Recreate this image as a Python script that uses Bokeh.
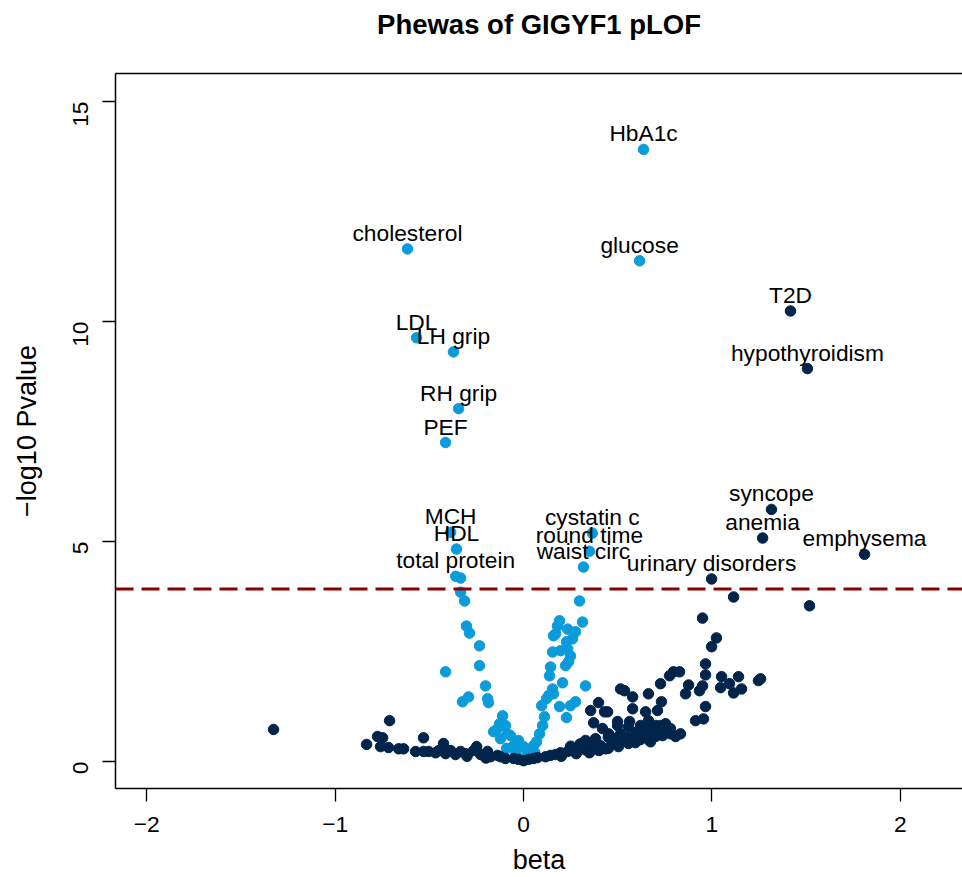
import math
from bokeh.plotting import figure
from bokeh.models import Range1d, FixedTicker, Span, ColumnDataSource, LabelSet, LinearAxis, Title
from bokeh.core.properties import value
from bokeh.embed import file_html
from bokeh.resources import INLINE

# ---- data -------------------------------------------------------------
title_text = "Phewas of GIGYF1 pLOF"
hit_names = ["HbA1c", "cholesterol", "glucose", "T2D", "LDL", "LH grip", "hypothyroidism",
             "RH grip", "PEF", "syncope", "cystatin c", "MCH", "anemia", "HDL", "round time",
             "emphysema", "waist circ", "total protein", "urinary disorders"]
hit_beta = [0.637, -0.616, 0.616, 1.417, -0.568, -0.372, 1.507, -0.345, -0.414, 1.316,
            0.365, -0.387, 1.269, -0.356, 0.350, 1.810, 0.318, -0.360, 0.998]
hit_logp = [13.91, 11.65, 11.38, 10.24, 9.63, 9.31, 8.93, 8.02, 7.25, 5.73,
            5.19, 5.21, 5.08, 4.83, 4.78, 4.71, 4.42, 4.21, 4.15]
hit_type = ["q", "q", "q", "b", "q", "q", "b", "q", "q", "b",
            "q", "q", "b", "q", "q", "b", "q", "q", "b"]

# quantitative traits (light blue), not labelled
q_beta = [-0.334, -0.334, -0.313, -0.303, -0.287, -0.234, -0.234, -0.414, -0.202, -0.292, -0.324, -0.191, -0.186,
          0.297, 0.313, 0.329, 0.207, 0.191, 0.180, 0.170, 0.159, 0.234, 0.276, 0.260, 0.196, 0.154, 0.249,
          0.239, 0.223, 0.143, 0.138, 0.154, 0.159, 0.133, 0.122, 0.276, 0.249, 0.191, 0.228, 0.096, 0.111,
          0.101, 0.085, 0.069, 0.053,
          -0.111, -0.127, -0.138, -0.159, -0.096, -0.069, -0.027, 0.000, -0.053,
          0.228, 0.234, -0.085, -0.122, 0.037, -0.040, 0.020, 0.060, -0.090]
q_logp = [4.17, 3.85, 3.65, 3.08, 2.92, 2.63, 2.18, 2.04, 1.72, 1.47, 1.36, 1.43, 1.34,
          3.65, 3.17, 1.72, 1.79, 3.20, 3.08, 2.90, 2.86, 3.01, 2.95, 2.79, 2.52, 2.49, 2.40,
          2.27, 2.18, 2.15, 1.95, 1.65, 1.54, 1.50, 1.43, 1.36, 1.27, 1.25, 1.00, 1.27, 1.02,
          0.82, 0.63, 0.45, 0.36,
          1.04, 0.86, 0.75, 0.68, 0.82, 0.59, 0.48, 0.34, 0.36,
          2.72, 2.56, 0.63, 0.52, 0.25, 0.20, 0.15, 0.20, 0.30]

# binary traits (navy), not labelled
b_beta = [-1.327, -0.711, -0.775, -0.748, -0.833, -0.759, -0.717, -0.663, -0.637, -0.573, -0.531, -0.531,
          -0.504, -0.425, -0.249, -0.334, -0.265, -0.191, -0.138, -0.053, 0.000, 0.074, 0.143, 0.234, 0.303,
          0.393, 0.478, 0.531,
          -0.467, -0.414, -0.387, -0.361, -0.308, -0.228, -0.175, -0.122, -0.096, -0.027, 0.027, 0.053, 0.117,
          0.170, 0.196, 0.260, 0.329, 0.356, 0.409, 0.435, 0.504, 0.557, 0.594, 0.621, 0.663, 0.701, 0.738,
          0.780, 0.833, 0.329, 0.382, 0.462, 0.515, 0.594, 0.648, 0.701, 0.754, 0.621,
          0.356, 0.398, 0.430, 0.446, 0.372, 0.419, 0.451, 0.499, 0.499, 0.515, 0.536, 0.531, 0.563, 0.557,
          0.579, 0.579, 0.610, 0.610, 0.648, 0.663, 0.663, 0.674, 0.674, 0.711, 0.732, 0.727, 0.727, 0.775,
          0.796, 0.828, 0.780, 0.807, 0.860, 0.876, 0.913, 0.934, 0.950, 0.955, 0.966, 0.966, 0.966, 0.950,
          0.998, 1.024, 1.046, 1.051, 1.093, 1.115, 1.141, 1.157, 1.115, 1.247, 1.258, 1.518,
          0.25, 0.30, 0.35, 0.40, 0.45, 0.50, 0.55, 0.60, 0.65, 0.70, 0.75, 0.45, 0.38, 0.28, 0.20,
          -0.30, -0.45, -0.20]
b_logp = [0.73, 0.93, 0.57, 0.54, 0.39, 0.34, 0.32, 0.29, 0.29, 0.23, 0.54, 0.23,
          0.23, 0.41, 0.34, 0.23, 0.25, 0.23, 0.14, 0.07, 0.02, 0.09, 0.14, 0.23, 0.29,
          0.34, 0.41, 0.48,
          0.20, 0.18, 0.25, 0.16, 0.18, 0.16, 0.11, 0.11, 0.07, 0.05, 0.05, 0.07, 0.11,
          0.16, 0.20, 0.25, 0.27, 0.34, 0.36, 0.29, 0.34, 0.41, 0.43, 0.50, 0.50, 0.57, 0.59,
          0.63, 0.63, 0.48, 0.52, 0.57, 0.63, 0.63, 0.75, 0.82, 0.86, 0.82,
          1.16, 1.34, 1.13, 1.13, 0.88, 0.75, 0.63, 0.91, 0.82, 1.65, 1.61, 0.52, 0.91, 0.79,
          1.47, 1.20, 0.70, 0.59, 1.13, 1.54, 0.93, 0.82, 0.45, 1.16, 1.36, 1.77, 0.82, 1.95,
          2.04, 2.04, 0.75, 0.57, 1.54, 1.74, 0.93, 1.61, 1.72, 0.97, 1.97, 2.22, 1.25, 3.26,
          2.61, 2.81, 1.68, 1.93, 1.77, 1.56, 1.93, 1.65, 3.74, 1.84, 1.88, 3.54,
          0.35, 0.40, 0.20, 0.25, 0.30, 0.45, 0.55, 0.50, 0.60, 0.70, 0.65, 0.55, 0.45, 0.18, 0.12,
          0.12, 0.25, 0.08]

threshold = 3.92
x_ticks = [-2, -1, 0, 1, 2]
y_ticks = [0, 5, 10, 15]

# ---- style --------------------------------------------------------------
LIGHT = "#0A9BDB"
NAVY = "#01244A"
FONT = "Liberation Sans"

p = figure(width=962, height=877, output_backend="svg", toolbar_location=None,
           x_range=Range1d(-2.166, 2.330), y_range=Range1d(-0.612, 15.636),
           min_border_left=115, min_border_right=0, min_border_top=73, min_border_bottom=87)
p.background_fill_color = "white"
p.border_fill_color = "white"
p.outline_line_color = None
p.xgrid.visible = False
p.ygrid.visible = False

for ax, ticks in ((p.xaxis[0], x_ticks), (p.yaxis[0], y_ticks)):
    ax.ticker = FixedTicker(ticks=ticks)
    ax.major_label_overrides = {t: str(t).replace("-", "\u2212") for t in ticks}
    ax.minor_tick_line_color = None
    ax.axis_line_color = "black"
    ax.axis_line_width = 1.5
    ax.major_tick_line_color = "black"
    ax.major_tick_line_width = 1.3
    ax.major_tick_out = 13
    ax.major_tick_in = 0
    ax.major_label_text_font = FONT
    ax.major_label_text_font_size = "22.75px"
    ax.major_label_text_color = "black"
    ax.axis_label_text_font = FONT
    ax.axis_label_text_font_size = "27px"
    ax.axis_label_text_font_style = "normal"
    ax.axis_label_text_color = "black"

p.xaxis.axis_label = "beta"
p.xaxis.major_label_standoff = 15
p.xaxis.axis_label_standoff = 10
p.yaxis.axis_label = "\u2212log10 Pvalue"
p.yaxis.major_label_orientation = math.pi / 2
p.yaxis.major_label_standoff = 22
p.yaxis.axis_label_standoff = 21

# top border of the box
top_ax = LinearAxis(ticker=FixedTicker(ticks=[]), axis_line_color="black", axis_line_width=1.5,
                    major_label_text_font_size="0px", major_label_standoff=0,
                    major_tick_out=0, major_tick_in=0, major_tick_line_color=None,
                    minor_tick_line_color=None)
p.add_layout(top_ax, "above")

# blank spacer between the box and the title, then the title itself
p.add_layout(Title(text=" ", text_font=FONT, text_font_size="14px", standoff=10), "above")
p.add_layout(Title(text=title_text, align="center", vertical_align="middle", offset=3,
                   text_font=FONT, text_font_style="bold", text_font_size="27.5px",
                   text_color="black", standoff=10), "above")

# ---- points -------------------------------------------------------------
p.scatter(q_beta, q_logp, size=10.5, fill_color=LIGHT, line_color=LIGHT)
p.scatter(b_beta, b_logp, size=10.5, fill_color=NAVY, line_color=NAVY)

hit_src = ColumnDataSource(dict(
    x=hit_beta, y=hit_logp, name=hit_names,
    color=[LIGHT if t == "q" else NAVY for t in hit_type]))
p.scatter("x", "y", source=hit_src, size=10.5, fill_color="color", line_color="color")

p.add_layout(Span(location=threshold, dimension="width", line_color="#8B0000",
                  line_dash="18 8", line_width=3))

p.add_layout(LabelSet(x="x", y="y", text="name", source=hit_src, y_offset=16,
                      text_align="center", text_baseline="middle",
                      text_font=value(FONT), text_font_size=value("22.75px"),
                      text_color="black"))

open("out.html", "w").write(file_html(p, INLINE))
